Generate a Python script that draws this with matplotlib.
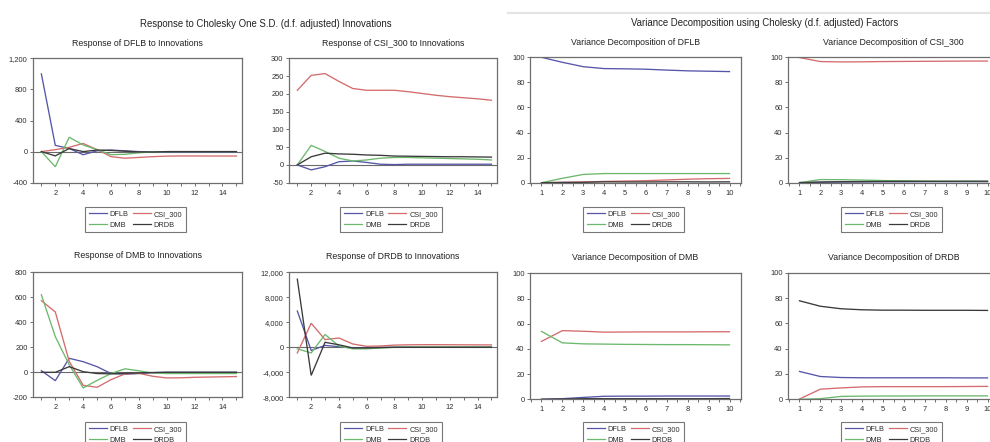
import matplotlib
matplotlib.use('Agg')
import matplotlib.pyplot as plt
from matplotlib.ticker import FuncFormatter, MultipleLocator, FixedLocator
from matplotlib.lines import Line2D

plt.rcParams['font.family'] = ['Liberation Sans', 'DejaVu Sans']

# ---------------- data ----------------
series_names = ['DFLB', 'CSI_300', 'DMB', 'DRDB']
periods_irf = list(range(1, 16))
periods_vd = list(range(1, 11))

# Response of DFLB to innovations
dflb_to_dflb = [1000, 80, 40, -40, 10, 20, 10, 0, -5, -5, -5, -5, -5, -5, -5]
dflb_to_csi = [0, 25, 55, 105, 25, -65, -85, -75, -65, -58, -56, -56, -57, -57, -57]
dflb_to_dmb = [0, -195, 185, 85, 25, -40, -35, -15, -5, 0, 0, 0, 0, 0, 0]
dflb_to_drdb = [0, -55, 40, 0, 20, 15, 5, -5, -5, 0, 0, 0, 0, 0, 0]

# Response of CSI_300 to innovations
csi_to_dflb = [0, -14, -5, 9, 11, 7, 2, 1, 2, 2, 2, 2, 2, 2, 2]
csi_to_csi = [210, 252, 257, 235, 215, 210, 210, 210, 206, 201, 196, 192, 189, 186, 182]
csi_to_dmb = [0, 55, 38, 19, 11, 14, 19, 21, 21, 20, 19, 18, 17, 16, 14]
csi_to_drdb = [0, 23, 33, 31, 30, 28, 27, 25, 24.5, 24, 23.5, 23, 23, 22.5, 22]

# Response of DMB to innovations
dmb_to_dflb = [13, -67, 112, 85, 45, -10, -15, -10, -3, 0, 0, 0, 0, 0, 0]
dmb_to_csi = [573, 483, 88, -104, -120, -59, -13, -8, -32, -45, -44, -40, -38, -36, -34]
dmb_to_dmb = [620, 285, 60, -125, -65, -10, 28, 12, -5, -10, -10, -10, -10, -10, -10]
dmb_to_drdb = [0, 0, 45, 5, -10, -12, -8, -5, -2, 0, 0, 0, 0, 0, 0]

# Response of DRDB to innovations
drdb_to_dflb = [5800, -500, 300, 100, -100, -50, 0, 0, 0, 0, 0, 0, 0, 0, 0]
drdb_to_csi = [-900, 3850, 1230, 1490, 530, 160, 210, 350, 400, 420, 420, 410, 400, 390, 380]
drdb_to_dmb = [-250, -900, 2050, 200, -250, -250, -100, 0, 50, 50, 50, 50, 50, 50, 50]
drdb_to_drdb = [10900, -4500, 800, 400, -100, -100, -50, 0, 0, 0, 0, 0, 0, 0, 0]

# Variance decomposition of DFLB
vd_dflb_dflb = [100, 96, 92.5, 91, 90.8, 90.5, 89.8, 89.2, 88.9, 88.6]
vd_dflb_csi = [0, 0.3, 0.6, 1.0, 1.3, 1.6, 2.2, 2.8, 3.2, 3.4]
vd_dflb_dmb = [0, 3.5, 6.6, 7.3, 7.3, 7.3, 7.3, 7.3, 7.3, 7.3]
vd_dflb_drdb = [0, 0.2, 0.3, 0.7, 0.6, 0.6, 0.7, 0.7, 0.6, 0.7]

# Variance decomposition of CSI_300
vd_csi_dflb = [0.2, 0.4, 0.5, 0.6, 0.7, 0.7, 0.8, 0.8, 0.8, 0.8]
vd_csi_csi = [99.8, 96.6, 96.3, 96.4, 96.6, 96.7, 96.8, 96.9, 97.0, 97.0]
vd_csi_dmb = [0, 2.5, 2.4, 2.1, 1.7, 1.5, 1.3, 1.2, 1.1, 1.0]
vd_csi_drdb = [0, 0.5, 0.8, 0.9, 1.0, 1.1, 1.1, 1.1, 1.2, 1.2]

# Variance decomposition of DMB
vd_dmb_dflb = [0.1, 0.5, 1.5, 2.4, 2.5, 2.5, 2.6, 2.6, 2.6, 2.6]
vd_dmb_csi = [46, 54.5, 54.0, 53.3, 53.4, 53.5, 53.5, 53.5, 53.6, 53.6]
vd_dmb_dmb = [53.9, 44.8, 44.0, 43.8, 43.6, 43.5, 43.4, 43.4, 43.3, 43.2]
vd_dmb_drdb = [0, 0.2, 0.5, 0.5, 0.5, 0.5, 0.5, 0.5, 0.5, 0.6]

# Variance decomposition of DRDB
vd_drdb_dflb = [22, 18, 17.2, 17, 17, 17, 17, 17, 16.9, 16.9]
vd_drdb_csi = [0.2, 8.0, 9.0, 9.8, 10, 10, 10, 10, 10.1, 10.2]
vd_drdb_dmb = [0, 0.5, 2.3, 2.5, 2.6, 2.6, 2.7, 2.7, 2.7, 2.7]
vd_drdb_drdb = [77.8, 73.5, 71.5, 70.7, 70.4, 70.4, 70.3, 70.3, 70.3, 70.2]

# ---------------- styling ----------------
W, H = 990, 442
colors = ['#5656a8', '#d46c6c', '#6cb86c', '#3a3a3a']
frame_col = '#6e6e6e'
text_col = '#2e2e2e'

fig = plt.figure(figsize=(W / 100, H / 100), dpi=100)


def ax_at(x0, x1, y0, y1):
    return fig.add_axes([x0 / W, 1 - y1 / H, (x1 - x0) / W, (y1 - y0) / H])


def style(ax, ylim, ystep, xlim, kind):
    ax.set_xlim(*xlim)
    ax.set_ylim(*ylim)
    ax.yaxis.set_major_locator(MultipleLocator(ystep))
    ax.yaxis.set_major_formatter(FuncFormatter(lambda v, p: f"{v:,.0f}"))
    if kind == 'irf':
        ax.xaxis.set_major_locator(FixedLocator(list(range(2, 15, 2))))
        ax.xaxis.set_minor_locator(FixedLocator(list(range(1, 16))))
    else:
        ax.xaxis.set_major_locator(FixedLocator(list(range(1, 11))))
        ax.xaxis.set_minor_locator(FixedLocator([i + 0.5 for i in range(0, 11)]))
    for s in ax.spines.values():
        s.set_color(frame_col)
        s.set_linewidth(0.9)
    ax.tick_params(axis='both', which='both', direction='out', length=2.4, width=0.7,
                   color=frame_col, labelsize=5.4, labelcolor=text_col, pad=2.5)
    ax.tick_params(axis='y', pad=1.5)


def draw(ax, x, ys):
    for y, c, n in zip(ys, colors, series_names):
        ax.plot(x, y, color=c, lw=0.95, label=n, solid_joinstyle='miter')


def legend_at(cx, ytop):
    handles = [Line2D([], [], color=c, lw=0.9) for c in colors]
    order = [0, 2, 1, 3]
    leg = fig.legend([handles[i] for i in order], [series_names[i] for i in order],
                     loc='upper center', bbox_to_anchor=(cx / W, 1 - ytop / H), ncol=2,
                     fontsize=5.3, frameon=True, fancybox=False, edgecolor='#555555',
                     borderpad=0.5, handlelength=2.5, handletextpad=0.4,
                     columnspacing=0.5, labelspacing=0.5, borderaxespad=0)
    leg.get_frame().set_linewidth(0.8)
    for t in leg.get_texts():
        t.set_color(text_col)


def title_at(cx, cy, s, size=6.3):
    fig.text(cx / W, 1 - cy / H, s, ha='center', va='center', fontsize=size, color='#222222')


irf_xlim = (0.4, 15.4)
vd_xlim = (0.45, 10.55)

panels = [
    # (x0, x1, y0, y1, title, kind, ylim, ystep, series, title_y, legend_y)
    (33, 242, 58.3, 182.7, 'Response of DFLB to Innovations', 'irf', (-400, 1200), 400,
     [dflb_to_dflb, dflb_to_csi, dflb_to_dmb, dflb_to_drdb], 43, 207),
    (289, 497, 58.3, 182.7, 'Response of CSI_300 to Innovations', 'irf', (-50, 300), 50,
     [csi_to_dflb, csi_to_csi, csi_to_dmb, csi_to_drdb], 43, 207),
    (530, 741, 57.3, 182.7, 'Variance Decomposition of DFLB', 'vd', (0, 100), 20,
     [vd_dflb_dflb, vd_dflb_csi, vd_dflb_dmb, vd_dflb_drdb], 42.7, 207),
    (788, 999, 57.3, 182.7, 'Variance Decomposition of CSI_300', 'vd', (0, 100), 20,
     [vd_csi_dflb, vd_csi_csi, vd_csi_dmb, vd_csi_drdb], 42.7, 207),
    (33, 242, 272.3, 397.3, 'Response of DMB to Innovations', 'irf', (-200, 800), 200,
     [dmb_to_dflb, dmb_to_csi, dmb_to_dmb, dmb_to_drdb], 256, 422),
    (289, 497, 272.3, 397.3, 'Response of DRDB to Innovations', 'irf', (-8000, 12000), 4000,
     [drdb_to_dflb, drdb_to_csi, drdb_to_dmb, drdb_to_drdb], 256.7, 422),
    (530, 741, 273.3, 399.3, 'Variance Decomposition of DMB', 'vd', (0, 100), 20,
     [vd_dmb_dflb, vd_dmb_csi, vd_dmb_dmb, vd_dmb_drdb], 257.3, 422),
    (788, 999, 272.7, 399.3, 'Variance Decomposition of DRDB', 'vd', (0, 100), 20,
     [vd_drdb_dflb, vd_drdb_csi, vd_drdb_dmb, vd_drdb_drdb], 257.7, 422),
]

for (x0, x1, y0, y1, ttl, kind, ylim, ystep, ys, ty, ly) in panels:
    ax = ax_at(x0, x1, y0, y1)
    if kind == 'irf':
        ax.axhline(0, color='#6a6a6a', lw=0.8, zorder=1)
        draw(ax, periods_irf, ys)
        style(ax, ylim, ystep, irf_xlim, kind)
    else:
        draw(ax, periods_vd, ys)
        style(ax, ylim, ystep, vd_xlim, kind)
    cx = (x0 + x1) / 2
    title_at(cx, ty, ttl)
    legend_at(cx - 2, ly)

title_at(266, 24, 'Response to Cholesky One S.D. (d.f. adjusted) Innovations', size=6.9)
title_at(765, 23, 'Variance Decomposition using Cholesky (d.f. adjusted) Factors', size=6.9)

# faint border of the second screenshot
fig.add_artist(Line2D([508 / W, 1.0], [1 - 13 / H, 1 - 13 / H], color='#e4e4e4', lw=1.6,
                      transform=fig.transFigure))

fig.savefig('out.png', dpi=100)
